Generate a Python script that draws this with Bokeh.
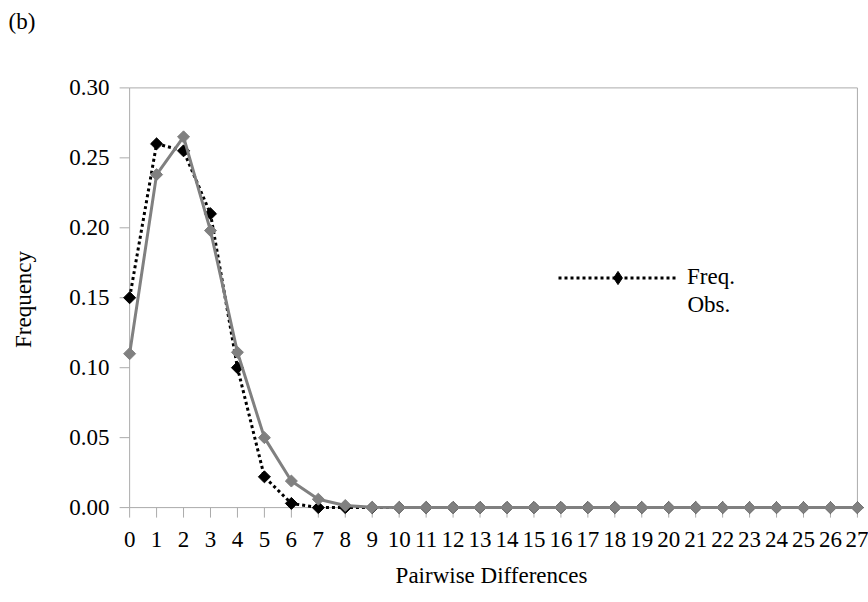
from bokeh.plotting import figure
from bokeh.models import Range1d, FixedTicker, Legend, LegendItem, Label, Title
from bokeh.embed import file_html
from bokeh.resources import INLINE
import math

# Pairwise differences (mismatch distribution)
differences = list(range(28))
freq = [0.150, 0.260, 0.255, 0.210, 0.100, 0.022, 0.003, 0.000, 0.000, 0.000,
        0.000, 0.000, 0.000, 0.000, 0.000, 0.000, 0.000, 0.000, 0.000, 0.000,
        0.000, 0.000, 0.000, 0.000, 0.000, 0.000, 0.000, 0.000]
obs = [0.110, 0.238, 0.265, 0.198, 0.111, 0.050, 0.019, 0.006, 0.0015, 0.0003,
       0.000, 0.000, 0.000, 0.000, 0.000, 0.000, 0.000, 0.000, 0.000, 0.000,
       0.000, 0.000, 0.000, 0.000, 0.000, 0.000, 0.000, 0.000]
y_ticks = [0.00, 0.05, 0.10, 0.15, 0.20, 0.25, 0.30]
y_tick_labels = ["0.00", "0.05", "0.10", "0.15", "0.20", "0.25", "0.30"]

FONT = "Liberation Serif"
AXIS_GREY = "#ababab"
SERIES_GREY = "#808080"

x_lo, x_hi = differences[0], differences[-1]
y_lo, y_hi = y_ticks[0], y_ticks[-1]

# frame is padded a little beyond the data area so edge markers and
# outward tick marks are not clipped
X_PAD_L, X_PAD_R = 0.45, 0.3
Y_PAD_B, Y_PAD_T = 0.0085, 0.006
FRAME_W, FRAME_H = 748, 440
px_x = FRAME_W / (x_hi - x_lo + X_PAD_L + X_PAD_R)
px_y = FRAME_H / (y_hi - y_lo + Y_PAD_B + Y_PAD_T)
TICK = 10  # tick length in pixels

p = figure(
    width=868, height=602,
    frame_width=FRAME_W, frame_height=FRAME_H,
    min_border_left=117, min_border_right=3,
    min_border_top=79, min_border_bottom=83,
    x_range=Range1d(x_lo - X_PAD_L, x_hi + X_PAD_R),
    y_range=Range1d(y_lo - Y_PAD_B, y_hi + Y_PAD_T),
    output_backend="svg", toolbar_location=None,
    background_fill_color="white", border_fill_color="white",
)
p.outline_line_color = None
p.grid.visible = False
p.title.text = ""
p.title.standoff = 0

# panel tag, top-left, lifted by a blank spacer row between it and the frame
spacer = Title(text=" ", standoff=17, text_font=FONT, text_font_size="23px")
tag = Title(text="(b)", align="left", vertical_align="top", offset=-109, standoff=0,
            text_font=FONT, text_font_size="23px", text_font_style="normal",
            text_color="black")
p.add_layout(spacer, "above")
p.add_layout(tag, "above")

# Bokeh axes carry only the tick and axis labels; lines and ticks are drawn below
for ax in (p.xaxis[0], p.yaxis[0]):
    ax.axis_line_color = None
    ax.major_tick_line_color = None
    ax.minor_tick_line_color = None
    ax.major_tick_in = 0
    ax.major_tick_out = 0
    ax.major_label_text_font = FONT
    ax.major_label_text_font_size = "23px"
    ax.major_label_text_color = "black"
    ax.axis_label_text_font = FONT
    ax.axis_label_text_font_size = "23px"
    ax.axis_label_text_font_style = "normal"
    ax.axis_label_text_color = "black"

xa = p.xaxis[0]
xa.ticker = FixedTicker(ticks=differences)
xa.major_label_standoff = 12
xa.axis_label = "Pairwise Differences"
xa.axis_label_standoff = 13

ya = p.yaxis[0]
ya.ticker = FixedTicker(ticks=y_ticks)
ya.major_label_overrides = {t: s for t, s in zip(y_ticks, y_tick_labels)}
ya.major_label_standoff = 8
ya.axis_label = "Frequency"
ya.axis_label_standoff = 30

# axis lines, plot-area border and outward ticks
p.line(x=[x_lo, x_lo, x_hi, x_hi, x_lo], y=[y_hi, y_lo, y_lo, y_hi, y_hi],
       line_color=AXIS_GREY, line_width=1)
p.segment(x0=differences, y0=[y_lo] * len(differences),
          x1=differences, y1=[y_lo - TICK / px_y] * len(differences),
          line_color=AXIS_GREY, line_width=1)
p.segment(x0=[x_lo] * len(y_ticks), y0=y_ticks,
          x1=[x_lo - TICK / px_x] * len(y_ticks), y1=y_ticks,
          line_color=AXIS_GREY, line_width=1)

# expected frequencies: black dotted line with diamonds
freq_line = p.line(differences, freq, line_color="black", line_width=3, line_dash="3 3")
p.scatter(differences, freq, marker="square", angle=math.pi / 4, size=8.5,
          fill_color="black", line_color="black")

# observed: grey solid line with diamonds
p.line(differences, obs, line_color=SERIES_GREY, line_width=3)
p.scatter(differences, obs, marker="square", angle=math.pi / 4, size=8.5,
          fill_color=SERIES_GREY, line_color=SERIES_GREY)

# legend glyph proxy (sits outside the visible range)
legend_diamond = p.scatter([x_hi + 10], [y_lo], marker="diamond",
                           fill_color="black", line_color="black")

legend = Legend(
    items=[LegendItem(label="Freq.", renderers=[freq_line, legend_diamond])],
    location=(441, 225.5),
    glyph_width=119, glyph_height=33,
    label_standoff=10, padding=0, margin=0, spacing=0,
    border_line_color=None, background_fill_alpha=0,
    label_text_font=FONT, label_text_font_size="23px",
    label_text_color="black",
)
p.add_layout(legend, "center")

# second line of the legend text
p.add_layout(Label(x=570, y=215, x_units="screen", y_units="screen",
                   text="Obs.", text_font=FONT, text_font_size="23px",
                   text_color="black", text_baseline="middle", text_align="left"))

open("out.html", "w").write(file_html(p, INLINE))
